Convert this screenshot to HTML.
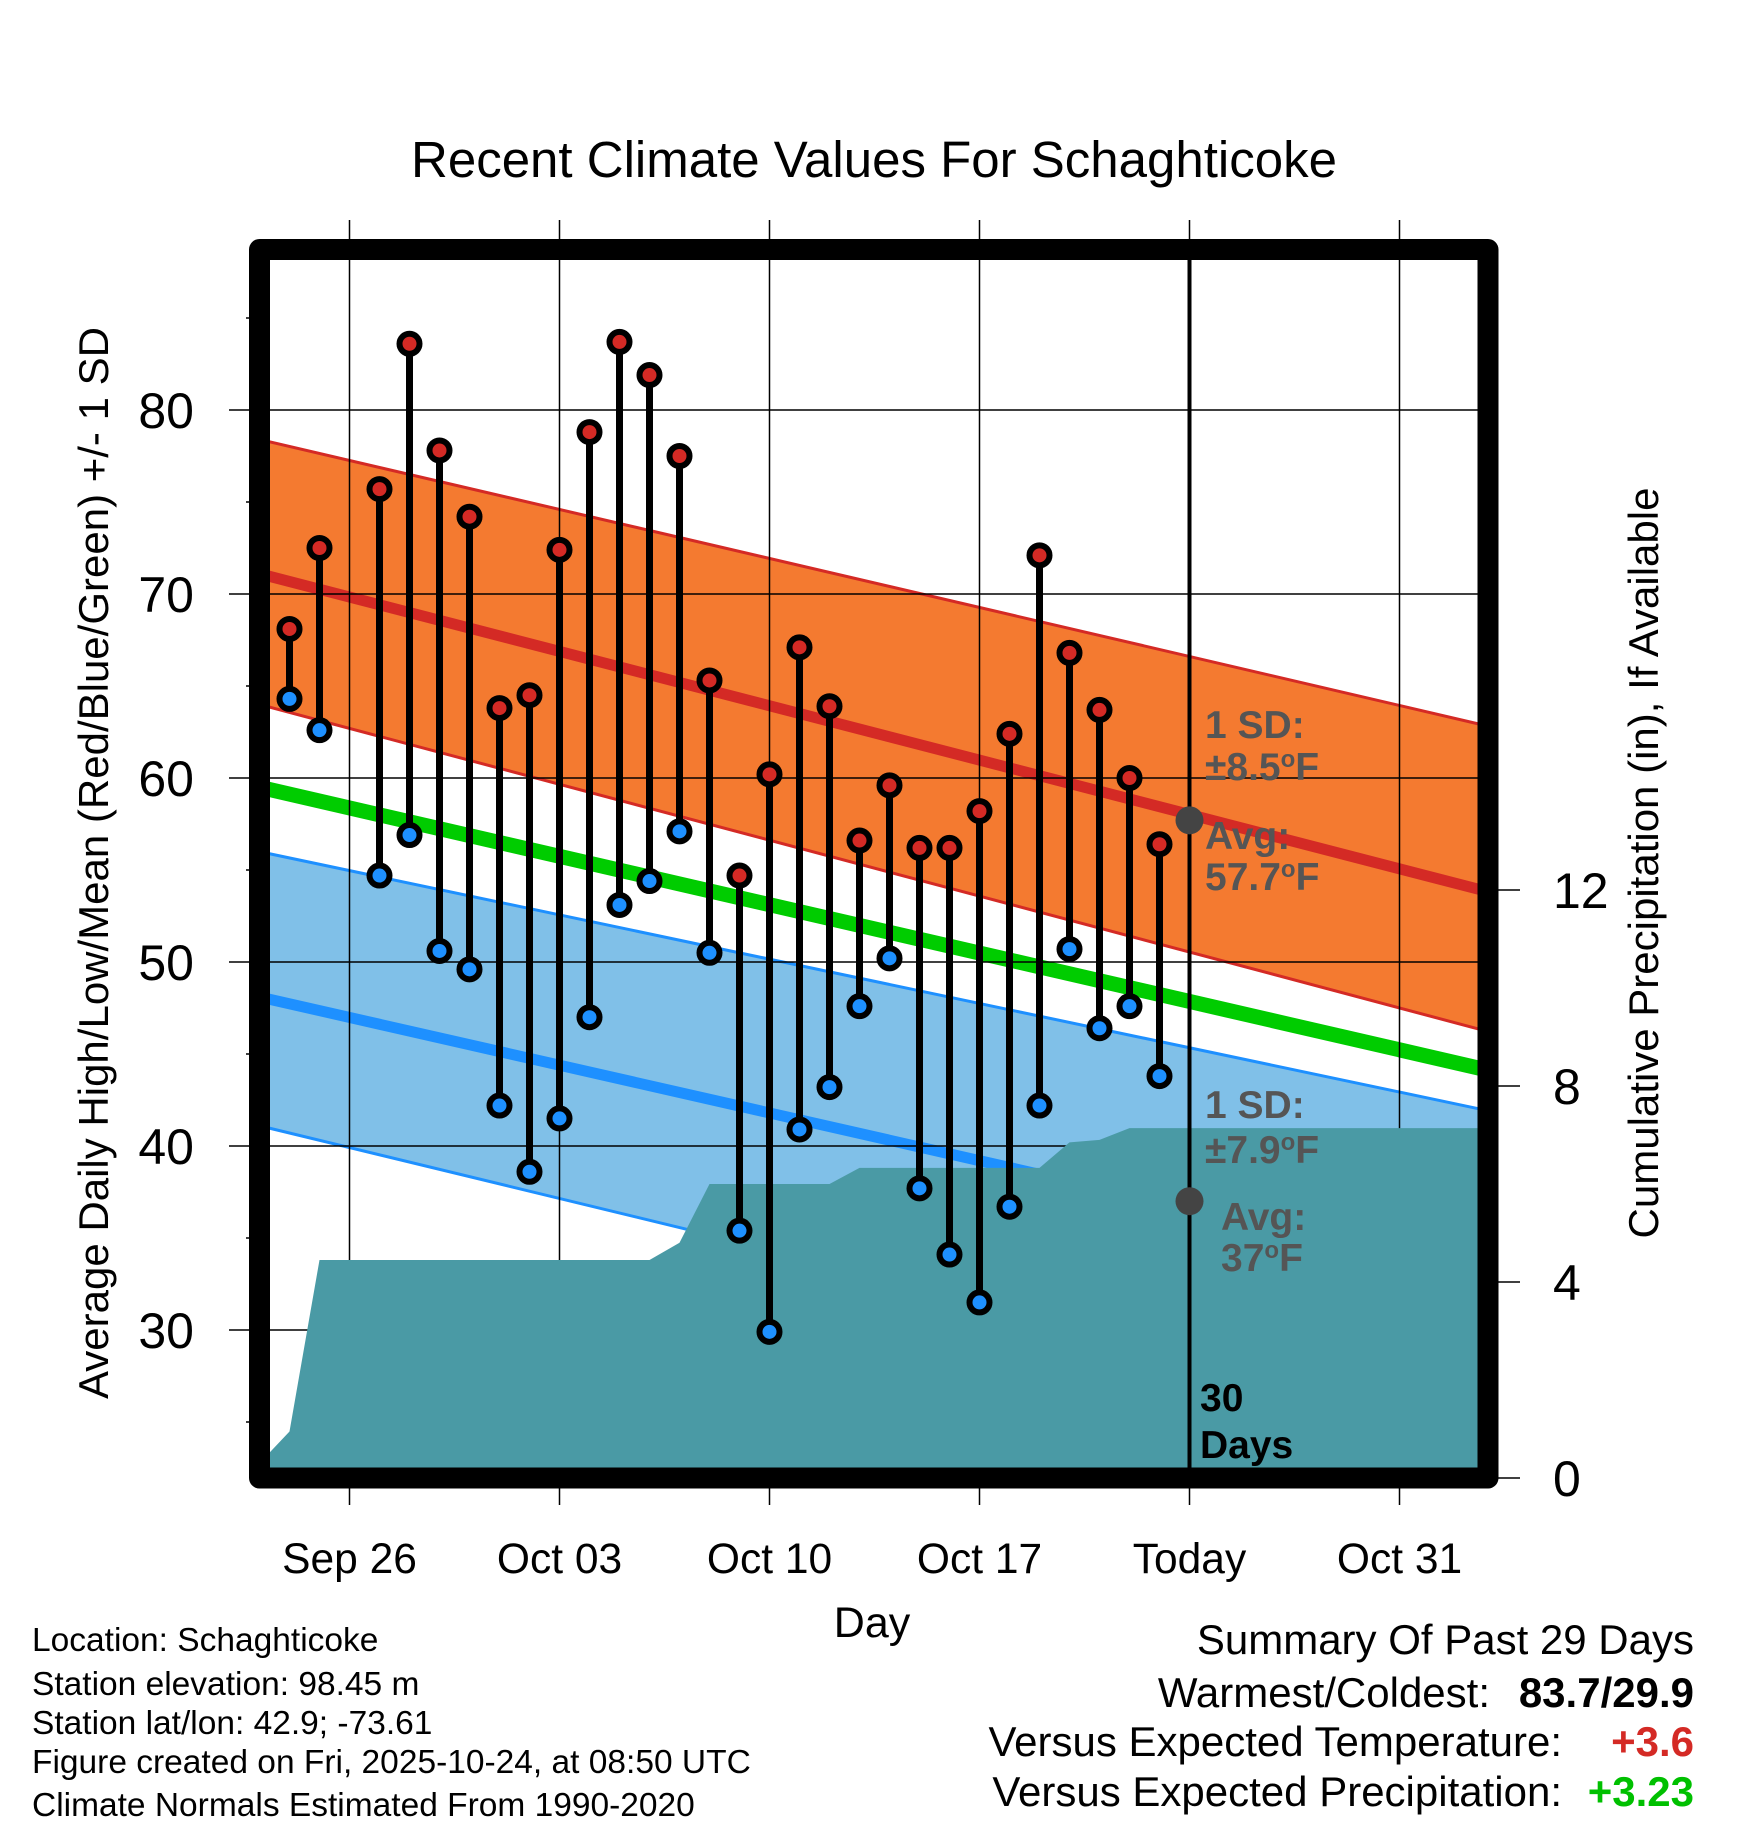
<!DOCTYPE html>
<html><head><meta charset="utf-8">
<style>
html,body{margin:0;padding:0;background:#fff;}
svg{display:block;font-family:"Liberation Sans",Arial,sans-serif;}
</style></head>
<body>
<svg id="chart" width="1748" height="1828" viewBox="0 0 1748 1828" xmlns="http://www.w3.org/2000/svg">
<g id="bands"></g>
<g id="grid"></g>
<g id="precip"></g>
<g id="marks"></g>
<g id="axes"></g>
<text x="874" y="177" font-size="51" text-anchor="middle">Recent Climate Values For Schaghticoke</text>
<text transform="translate(108,863) rotate(-90)" font-size="42" text-anchor="middle">Average Daily High/Low/Mean (Red/Blue/Green) +/- 1 SD</text>
<text transform="translate(1658,863) rotate(-90)" font-size="42" text-anchor="middle">Cumulative Precipitation (in), If Available</text>
<text x="872" y="1637" font-size="43" text-anchor="middle">Day</text>
<g font-size="39" font-weight="bold" fill="#555">
<text x="1205" y="738">1 SD:</text>
<text x="1205" y="780">±8.5<tspan dy="-13" font-size="24">o</tspan><tspan dy="13">F</tspan></text>
<text x="1205" y="849">Avg:</text>
<text x="1205" y="890">57.7<tspan dy="-13" font-size="24">o</tspan><tspan dy="13">F</tspan></text>
<text x="1205" y="1118">1 SD:</text>
<text x="1205" y="1163">±7.9<tspan dy="-13" font-size="24">o</tspan><tspan dy="13">F</tspan></text>
<text x="1221" y="1230">Avg:</text>
<text x="1221" y="1271">37<tspan dy="-13" font-size="24">o</tspan><tspan dy="13">F</tspan></text>
<text x="1200" y="1411" fill="#000">30</text>
<text x="1200" y="1458" fill="#000">Days</text>
</g>
<g font-size="33.5">
<text x="32" y="1651">Location: Schaghticoke</text>
<text x="32" y="1695">Station elevation: 98.45 m</text>
<text x="32" y="1734">Station lat/lon: 42.9; -73.61</text>
<text x="32" y="1773">Figure created on Fri, 2025-10-24, at 08:50 UTC</text>
<text x="32" y="1816">Climate Normals Estimated From 1990-2020</text>
</g>
<g font-size="42">
<text x="1694" y="1654" text-anchor="end">Summary Of Past 29 Days</text>
<text x="1490" y="1707" text-anchor="end">Warmest/Coldest:</text>
<text x="1694" y="1707" text-anchor="end" font-weight="bold">83.7/29.9</text>
<text x="1562" y="1756" text-anchor="end">Versus Expected Temperature:</text>
<text x="1694" y="1756" text-anchor="end" font-weight="bold" fill="#d42a25">+3.6</text>
<text x="1562" y="1806" text-anchor="end">Versus Expected Precipitation:</text>
<text x="1694" y="1806" text-anchor="end" font-weight="bold" fill="#00c000">+3.23</text>
</g>
</svg>
<script>
// ---- data ----
const dayOffsets = [1,2,4,5,6,7,8,9,10,11,12,13,14,15,16,17,18,19,20,21,22,23,24,25,26,27,28,29,30];
const highs = [68.1,72.5,75.7,83.6,77.8,74.2,63.8,64.5,72.4,78.8,83.7,81.9,77.5,65.3,54.7,60.2,67.1,63.9,56.6,59.6,56.2,56.2,58.2,62.4,72.1,66.8,63.7,60.0,56.4];
const lows  = [64.3,62.6,54.7,56.9,50.6,49.6,42.2,38.6,41.5,47.0,53.1,54.4,57.1,50.5,35.4,29.9,40.9,43.2,47.6,50.2,37.7,34.1,31.5,36.7,42.2,50.7,46.4,47.6,43.8];
const precipDays = [0,1,2,13,14,15,19,20,26,27,28,29,41];
const precipVals = [0.3,0.95,4.45,4.45,4.8,6.0,6.0,6.33,6.33,6.85,6.9,7.14,7.14];
const normalDays = [0,41];
const highMean = [71.1,53.8];
const highUpper = [78.4,62.8];
const highLower = [64.0,46.2];
const meanLine = [59.5,44.1];
const lowMean = [48.1,32.9];
const lowUpper = [56.0,41.9];
const lowLower = [41.1,24.9];
const tempTicks = [30,40,50,60,70,80];
const precipTicks = [0,4,8,12];
const xTickDays = [3,10,17,24,31,38];
const xTickLabels = ["Sep 26","Oct 03","Oct 10","Oct 17","Today","Oct 31"];
const todayDay = 31;
const avgHigh = 57.7, avgLow = 37;

// ---- scales ----
const L=259.5,R=1488,T=249.5,B=1478;
const X0=259.5, PXD=30;
const xs=d=>X0+PXD*d;
const yT=v=>1330-(v-30)*18.4;
const yP=v=>B-v*49;
const NS='http://www.w3.org/2000/svg';
function mk(tag,attrs,parent){const e=document.createElementNS(NS,tag);for(const k in attrs)e.setAttribute(k,attrs[k]);parent.appendChild(e);return e;}
const bands=document.getElementById('bands'),grid=document.getElementById('grid'),precip=document.getElementById('precip'),marks=document.getElementById('marks'),axes=document.getElementById('axes');
function linePts(arr){return normalDays.map((d,i)=>xs(d)+','+yT(arr[i]));}
function bandPoly(up,lo,fill,stroke,name){
  const pts=linePts(up).concat(linePts(lo).reverse()).join(' ');
  const p=mk('polygon',{points:pts,fill:fill,stroke:'none'},bands);
  
  
  [up,lo].forEach(a=>{const l=mk('polyline',{points:linePts(a).join(' '),fill:'none',stroke:stroke,'stroke-width':3},bands);
  
  });
}
bandPoly(lowUpper,lowLower,'#80c0e8','#1e90ff','low-sd-band');
bandPoly(highUpper,highLower,'#f47a30','#d42a25','high-sd-band');
function ln(arr,color,w,name){const l=mk('polyline',{points:linePts(arr).join(' '),fill:'none',stroke:color,'stroke-width':w},bands);

}
ln(lowMean,'#1e90ff',11,'low-normal-line');
ln(meanLine,'#00cc00',15,'mean-normal-line');
ln(highMean,'#d42a25',11,'high-normal-line');

// grid
tempTicks.forEach(v=>{const l=mk('line',{x1:229,x2:R,y1:yT(v),y2:yT(v),stroke:'#000','stroke-width':1.5},grid);


const t=mk('text',{x:194,y:yT(v)+18,'font-size':50,'text-anchor':'end'},axes);t.textContent=v;

});
for(let v=25;v<=85;v+=10){const l=mk('line',{x1:246,x2:L,y1:yT(v),y2:yT(v),stroke:'#000','stroke-width':1.5},axes);

}
xTickDays.forEach((d,i)=>{const l=mk('line',{x1:xs(d),x2:xs(d),y1:220,y2:1505,stroke:'#000','stroke-width':1.5},grid);


const t=mk('text',{x:xs(d),y:1573,'font-size':42.5,'text-anchor':'middle'},axes);t.textContent=xTickLabels[i];

});
precipTicks.forEach(v=>{const l=mk('line',{x1:R,x2:1520,y1:yP(v),y2:yP(v),stroke:'#000','stroke-width':1.5},axes);


const t=mk('text',{x:1553,y:yP(v)+18,'font-size':50},axes);t.textContent=v;

});

// precip area
let pp=precipDays.map((d,i)=>xs(d)+','+yP(precipVals[i]));
pp.push(xs(precipDays[precipDays.length-1])+','+B, xs(precipDays[0])+','+B);
const pa=mk('polygon',{points:pp.join(' '),fill:'#4a9aa5'},precip);



// today line and avg markers
const tl=mk('line',{x1:xs(todayDay),x2:xs(todayDay),y1:T,y2:B,stroke:'#000','stroke-width':4},marks);


[[avgHigh,'avg-high-marker'],[avgLow,'avg-low-marker']].forEach(a=>{const c=mk('circle',{cx:xs(todayDay),cy:yT(a[0]),r:14,fill:'#444'},marks);

});

// daily marks
dayOffsets.forEach((d,i)=>{
  const x=xs(d);
  const s=mk('line',{x1:x,x2:x,y1:yT(highs[i]),y2:yT(lows[i]),stroke:'#000','stroke-width':7},marks);
  
  
  const h=mk('circle',{cx:x,cy:yT(highs[i]),r:10,fill:'#d42a25',stroke:'#000','stroke-width':6},marks);
  
  
  const lo=mk('circle',{cx:x,cy:yT(lows[i]),r:10,fill:'#1e90ff',stroke:'#000','stroke-width':6},marks);
  
  
});

// frame
const fr=mk('rect',{x:L,y:T,width:R-L,height:B-T,fill:'none',stroke:'#000','stroke-width':21,'stroke-linejoin':'round'},axes);


</script>
</body></html>
